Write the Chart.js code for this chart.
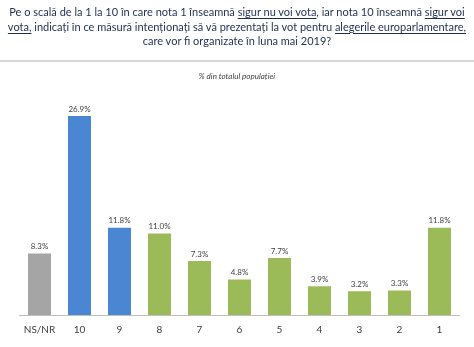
<!DOCTYPE html>
<html>
<head>
<meta charset="utf-8">
<script src="https://cdn.jsdelivr.net/npm/chart.js@4"></script>
<style>
    html, body { margin: 0; padding: 0; background: #fff; }
    #wrap { position: relative; width: 474px; height: 347px; overflow: hidden; }
    #question {
        position: absolute; left: 0; top: 5px; width: 474px; white-space: nowrap;
        text-align: center; font-family: Lato, sans-serif; font-size: 11px;
        line-height: 14.5px; color: #1f2f4f;
    }
    #question u { text-underline-offset: 2px; }
    #sep { position: absolute; left: 0; top: 60px; width: 474px; height: 2px; background: #d9d9d9; }
    #sub {
        position: absolute; left: 0; top: 71px; width: 474px; text-align: center;
        font-family: Lato, sans-serif; font-style: italic; font-size: 8px; color: #404040;
    }
    canvas { position: absolute; left: 0; top: 0; }
</style>
</head>
<body>
<div id="wrap">
    <canvas id="chart" width="474" height="347"></canvas>
    <div id="question">Pe o scală de la 1 la 10 în care nota 1 înseamnă <u>sigur nu voi vota</u>, iar nota 10 înseamnă <u>sigur voi</u><br><u>vota,</u> indicați în ce măsură intenționați să vă prezentați la vot pentru <u>alegerile europarlamentare,</u><br>care vor fi organizate în luna mai 2019?</div>
    <div id="sep"></div>
    <div id="sub">% din totalul populației</div>
</div>
<script>
    // Data
    const categories = ['NS/NR', '10', '9', '8', '7', '6', '5', '4', '3', '2', '1'];
    const values = [8.3, 26.9, 11.8, 11.0, 7.3, 4.8, 7.7, 3.9, 3.2, 3.3, 11.8];
    const barColors = ['#a5a5a5', '#4a86d2', '#4a86d2', '#9bbb59', '#9bbb59', '#9bbb59',
        '#9bbb59', '#9bbb59', '#9bbb59', '#9bbb59', '#9bbb59'];

    // Value labels above bars
    const valueLabels = {
        id: 'valueLabels',
        afterDatasetsDraw(chart) {
            const ctx = chart.ctx;
            const meta = chart.getDatasetMeta(0);
            ctx.save();
            ctx.font = '8px Lato, sans-serif';
            ctx.fillStyle = '#404040';
            ctx.textAlign = 'center';
            ctx.textBaseline = 'bottom';
            meta.data.forEach(function(bar, i) {
                ctx.fillText(values[i].toFixed(1) + '%', bar.x, bar.y - 3);
            });
            ctx.restore();
        }
    };

    new Chart(document.getElementById('chart'), {
        type: 'bar',
        data: {
            labels: categories,
            datasets: [{
                data: values,
                backgroundColor: barColors,
                borderWidth: 0,
                barPercentage: 0.575,
                categoryPercentage: 1
            }]
        },
        options: {
            responsive: false,
            animation: false,
            layout: { padding: { top: 93, left: 19.5, right: 14.5, bottom: 2 } },
            plugins: {
                legend: { display: false },
                tooltip: { enabled: false }
            },
            scales: {
                x: {
                    grid: { display: false, drawTicks: false },
                    border: { display: true, color: '#bfbfbf', width: 1 },
                    ticks: { color: '#404040', font: { family: 'Lato', size: 10 }, padding: 9 }
                },
                y: {
                    display: false,
                    min: 0,
                    max: 30
                }
            }
        },
        plugins: [valueLabels]
    });
</script>
</body>
</html>
